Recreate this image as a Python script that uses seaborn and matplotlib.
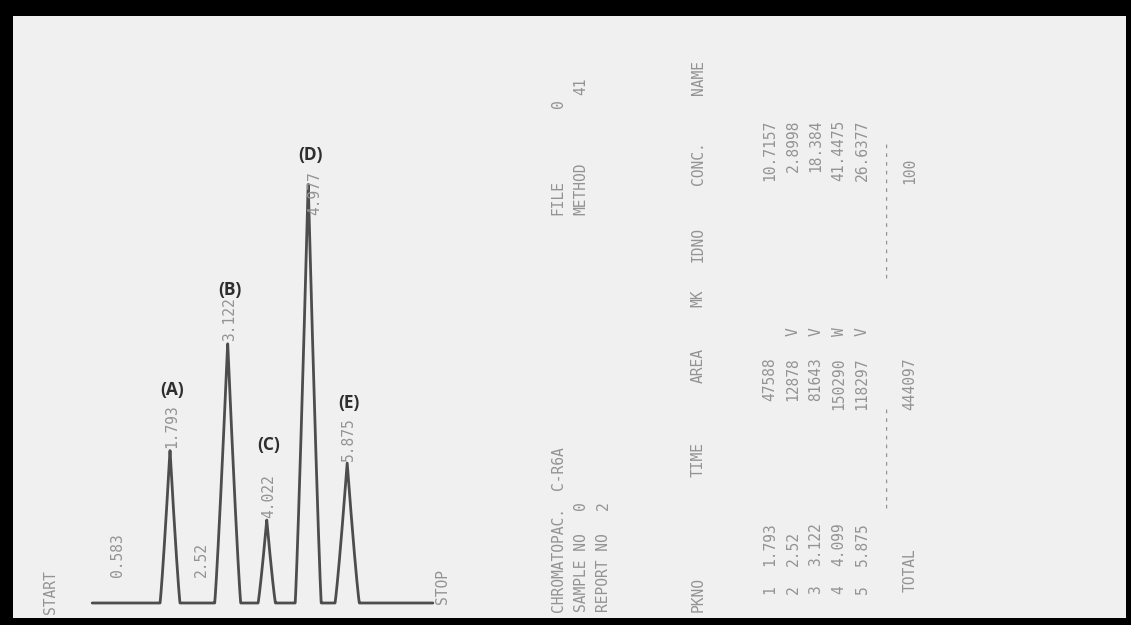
import numpy as np
import matplotlib
matplotlib.use("Agg")
import matplotlib.pyplot as plt
import seaborn as sns

# chromatogram peaks (retention time in min, height in detector units)
peak_names = ['(A)', '(B)', '(C)', '(D)', '(E)']
peak_times = [1.793, 3.122, 4.022, 4.977, 5.875]
peak_heights = [153, 260, 83, 420, 140]
peak_halfwidths = [0.23, 0.30, 0.20, 0.30, 0.28]
peak_labels = ['1.793', '3.122', '4.022', '4.977', '5.875']
name_heights = [213, 313, 158, 448, 200]

# retention times printed without a visible peak
minor_times = [0.583, 2.52]
minor_labels = ['0.583', '2.52']
run_stop = 7.85

# report table printed next to the trace
pk_no = ['1', '2', '3', '4', '5']
pk_time = ['1.793', '2.52', '3.122', '4.099', '5.875']
pk_area = ['47588', '12878', '81643', '150290', '118297']
pk_mk = ['', 'V', 'V', 'W', 'V']
pk_conc = ['10.7157', '2.8998', '18.384', '41.4475', '26.6377']
total_area = '444097'
total_conc = '100'

W, H = 1131, 625
paper = '#f0f0f0'
ink = '#939393'
mono = 'DejaVu Sans Mono'

sns.set_style('white')

# build the trace from the peak list
t = np.linspace(0, run_stop, 4000)
signal = np.zeros_like(t)
for t0, h, hw in zip(peak_times, peak_heights, peak_halfwidths):
    d = np.clip(1 - np.abs(t - t0) / hw, 0, None)
    signal += h * d ** 1.15

fig = plt.figure(figsize=(W / 100, H / 100), dpi=100)
fig.patch.set_facecolor('black')
ax = fig.add_axes([13 / W, 7 / H, 1113 / W, 602 / H])
ax.set_facecolor(paper)

sns.lineplot(x=t, y=signal, ax=ax, color='#4d4d4d', linewidth=2.0)

# 43.4 px per minute, baseline 15 px above the axes bottom
px_per_min = 43.4
ax.set_xlim((13 - 92.2) / px_per_min, (1126 - 92.2) / px_per_min)
ax.set_ylim(-15, 587)
ax.set_xticks([])
ax.set_yticks([])
ax.set_xlabel('')
ax.set_ylabel('')
for s in ax.spines.values():
    s.set_visible(False)

# retention time labels on the trace
for t0, h, lab in zip(peak_times, peak_heights, peak_labels):
    y0 = h + 2
    if lab == '4.977':
        y0 = h - 32
        t0 = t0 + 0.12
    ax.text(t0 + 0.04, y0, lab, rotation=90, ha='center', va='bottom',
            family=mono, fontsize=10.5, color=ink)
for t0, lab in zip(minor_times, minor_labels):
    ax.text(t0, 26, lab, rotation=90, ha='center', va='bottom',
            family=mono, fontsize=10.5, color=ink)

# (A)..(E) markers
for t0, yh, nm in zip(peak_times, name_heights, peak_names):
    ax.text(t0 + 0.05, yh, nm, ha='center', va='center', fontsize=12.5,
            fontweight='bold', family='Open Sans', color='#2e2e2e')


def ptext(x, y, s, va='bottom'):
    fig.text(x / W, 1 - y / H, s, rotation=90, ha='center', va=va,
             family=mono, fontsize=10.5, color=ink)


ptext(50, 614, 'START')
ptext(442, 604, 'STOP')

# header block
ptext(558, 612, 'CHROMATOPAC.')
ptext(558, 490, 'C-R6A')
ptext(558, 215, 'FILE')
ptext(558, 108, '0')
ptext(581, 612, 'SAMPLE NO')
ptext(581, 510, '0')
ptext(581, 215, 'METHOD')
ptext(581, 95, '41')
ptext(603, 612, 'REPORT NO')
ptext(603, 510, '2')

ptext(698, 612, 'PKNO')
ptext(698, 477, 'TIME')
ptext(698, 383, 'AREA')
ptext(698, 307, 'MK')
ptext(698, 262, 'IDNO')
ptext(698, 185, 'CONC.')
ptext(698, 95, 'NAME')

row_x = [770, 793, 816, 839, 862]
for x, n, tm, ar, mk, cc in zip(row_x, pk_no, pk_time, pk_area, pk_mk, pk_conc):
    ptext(x, 594, n)
    ptext(x, 566, tm)
    ptext(x, 357, ar, va='top')
    if mk:
        ptext(x, 336, mk)
    ptext(x, 120, cc, va='top')

ptext(885, 508, '------------')
ptext(885, 278, '----------------')
ptext(910, 592, 'TOTAL')
ptext(910, 357, total_area, va='top')
ptext(910, 158, total_conc, va='top')

fig.savefig('out.png', dpi=100, facecolor=fig.get_facecolor())
